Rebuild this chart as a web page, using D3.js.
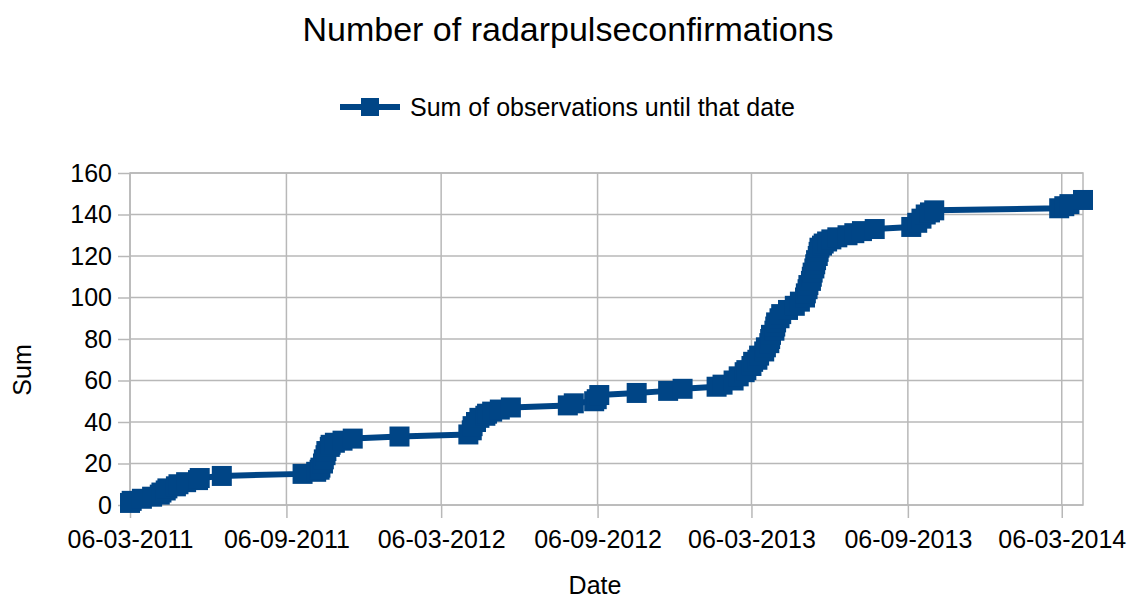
<!DOCTYPE html>
<html>
<head>
<meta charset="utf-8">
<script src="https://cdn.jsdelivr.net/npm/d3@7"></script>
<style>
  body { margin: 0; background: #fff; }
  svg text { font-family: 'Liberation Sans', Arial, sans-serif; fill: #000; }
</style>
</head>
<body>
<div id="chart"></div>
<script>
// observation dates (yyyy-mm-dd) and running total at that date
const obsDates = [
  '2011-03-06', '2011-03-08', '2011-03-20', '2011-04-01', '2011-04-10', '2011-04-12',
  '2011-04-17', '2011-04-19', '2011-04-29', '2011-05-02', '2011-05-11', '2011-05-25',
  '2011-05-27', '2011-06-22', '2011-09-25', '2011-10-11', '2011-10-15', '2011-10-16',
  '2011-10-19', '2011-10-20', '2011-10-22', '2011-10-23', '2011-10-27', '2011-10-28',
  '2011-11-02', '2011-11-11', '2011-11-23', '2012-01-17', '2012-04-07', '2012-04-11',
  '2012-04-12', '2012-04-16', '2012-04-20', '2012-04-27', '2012-04-29', '2012-05-05',
  '2012-05-14', '2012-05-27', '2012-08-02', '2012-08-09', '2012-09-02', '2012-09-05',
  '2012-09-08', '2012-10-22', '2012-11-28', '2012-12-15', '2013-01-24', '2013-01-31',
  '2013-02-13', '2013-02-19', '2013-02-26', '2013-02-28', '2013-03-06', '2013-03-08',
  '2013-03-13', '2013-03-15', '2013-03-21', '2013-03-23', '2013-03-27', '2013-03-28',
  '2013-03-29', '2013-04-02', '2013-04-03', '2013-04-04', '2013-04-08', '2013-04-10',
  '2013-04-18', '2013-04-26', '2013-05-02', '2013-05-08', '2013-05-09', '2013-05-11',
  '2013-05-12', '2013-05-15', '2013-05-16', '2013-05-17', '2013-05-19', '2013-05-20',
  '2013-05-21', '2013-05-23', '2013-05-24', '2013-05-25', '2013-05-28', '2013-05-30',
  '2013-06-03', '2013-06-08', '2013-06-15', '2013-06-27', '2013-07-05', '2013-07-14',
  '2013-07-29', '2013-09-10', '2013-09-17', '2013-09-22', '2013-09-27', '2013-10-02',
  '2013-10-07', '2014-03-03', '2014-03-09', '2014-03-15', '2014-03-31'
];
const obsSums = [
  1, 2, 3, 4, 5, 6,
  7, 8, 9, 10, 11, 12,
  13, 14, 15, 16, 17, 18,
  20, 22, 24, 26, 28, 29,
  30, 31, 32, 33, 34, 36,
  38, 40, 42, 43, 44, 45,
  46, 47, 48, 49, 50, 51,
  53, 54, 55, 56, 57, 58,
  60, 62, 64, 65, 67, 69,
  70, 72, 74, 76, 78, 80,
  82, 84, 86, 88, 90, 92,
  94, 96, 98, 100, 102, 104,
  106, 108, 110, 112, 114, 116,
  118, 120, 122, 124, 125, 126,
  127, 128, 129, 130, 131, 132,
  133, 134, 136, 138, 140, 141,
  142, 143, 144, 145, 147
];

const xTickLabels = ['06-03-2011', '06-09-2011', '06-03-2012', '06-09-2012', '06-03-2013', '06-09-2013', '06-03-2014'];
const yTicks = [0, 20, 40, 60, 80, 100, 120, 140, 160];

const W = 1128, H = 599;
const margin = { top: 173, right: 45, bottom: 94, left: 130 };
const width = W - margin.left - margin.right;
const height = H - margin.top - margin.bottom;
const lineColor = '#004586';
const gridColor = '#b8b8b8';

const parseIso = d3.utcParse('%Y-%m-%d');
const parseTick = d3.utcParse('%d-%m-%Y');
const data = obsDates.map((d, i) => ({ date: parseIso(d), sum: obsSums[i] }));

const svg = d3.select('#chart').append('svg')
  .attr('width', W)
  .attr('height', H);

// title + legend
svg.append('text')
  .attr('x', 568).attr('y', 41)
  .attr('text-anchor', 'middle')
  .style('font-size', '34px')
  .text('Number of radarpulseconfirmations');

const legend = svg.append('g').attr('transform', 'translate(340,107)');
legend.append('line').attr('x1', 0).attr('x2', 60).attr('y1', 0).attr('y2', 0)
  .attr('stroke', lineColor).attr('stroke-width', 6);
legend.append('rect').attr('x', 21).attr('y', -9).attr('width', 18).attr('height', 18)
  .attr('fill', lineColor);
legend.append('text').attr('x', 70).attr('y', 9)
  .style('font-size', '25px')
  .text('Sum of observations until that date');

const g = svg.append('g').attr('transform', `translate(${margin.left},${margin.top})`);

const x = d3.scaleUtc().domain(d3.extent(data, d => d.date)).range([0, width]);
const y = d3.scaleLinear().domain([0, 160]).range([height, 0]);

// --- Grid + axes ---
const yAxis = g.append('g')
  .call(d3.axisLeft(y).tickValues(yTicks).tickSize(12).tickPadding(6));
yAxis.selectAll('text').style('font-size', '25px');

const xAxis = g.append('g').attr('transform', `translate(0,${height})`)
  .call(d3.axisBottom(x)
    .tickValues(xTickLabels.map(parseTick))
    .tickFormat(d3.utcFormat('%d-%m-%Y'))
    .tickSize(13).tickPadding(12));
xAxis.selectAll('text').style('font-size', '25px');

g.selectAll('.domain').remove();
g.selectAll('.tick line').attr('stroke', gridColor).attr('stroke-width', 1.5);

g.append('g').selectAll('line').data(yTicks)
  .join('line')
  .attr('x1', 0).attr('x2', width)
  .attr('y1', d => y(d)).attr('y2', d => y(d))
  .attr('stroke', gridColor).attr('stroke-width', 1.5);

g.append('g').selectAll('line').data(xTickLabels.map(parseTick))
  .join('line')
  .attr('x1', d => x(d)).attr('x2', d => x(d))
  .attr('y1', 0).attr('y2', height)
  .attr('stroke', gridColor).attr('stroke-width', 1.5);

g.append('rect')
  .attr('width', width).attr('height', height)
  .attr('fill', 'none').attr('stroke', gridColor).attr('stroke-width', 1.5);

// axis titles
svg.append('text')
  .attr('x', 595).attr('y', 594)
  .attr('text-anchor', 'middle')
  .style('font-size', '25px')
  .text('Date');
svg.append('text')
  .attr('transform', 'translate(31,370) rotate(-90)')
  .attr('text-anchor', 'middle')
  .style('font-size', '25px')
  .text('Sum');

// --- Series ---
const line = d3.line().x(d => x(d.date)).y(d => y(d.sum));
g.append('path').datum(data)
  .attr('d', line)
  .attr('fill', 'none')
  .attr('stroke', lineColor)
  .attr('stroke-width', 6)
  .attr('stroke-linejoin', 'round');

const mk = 20;
g.selectAll('.marker').data(data)
  .join('rect').attr('class', 'marker')
  .attr('x', d => x(d.date) - mk / 2)
  .attr('y', d => y(d.sum) - mk / 2)
  .attr('width', mk).attr('height', mk)
  .attr('fill', lineColor);
</script>
</body>
</html>
